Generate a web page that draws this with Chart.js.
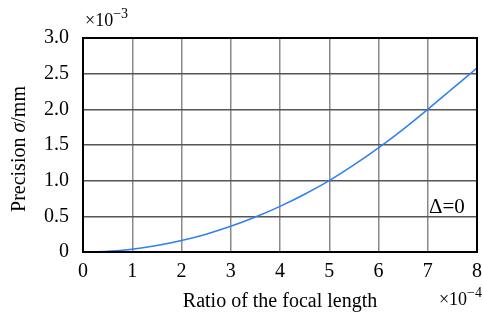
<!DOCTYPE html>
<html>
<head>
<meta charset="utf-8">
<script src="https://cdn.jsdelivr.net/npm/chart.js@4"></script>
<style>
  html, body { margin: 0; padding: 0; background: #fff; }
  #wrap { width: 482px; height: 314px; }
</style>
</head>
<body>
<div id="wrap"><canvas id="chartCanvas"></canvas></div>
<script>
// ratio of the focal length (x10^-4) and precision sigma (x10^-3 mm)
const ratio = [0, 0.5, 1, 1.5, 2, 2.5, 3, 3.5, 4, 4.5, 5, 5.5, 6, 6.5, 7, 7.5, 8];
const precision = [0, 0.01, 0.04, 0.09, 0.16, 0.25, 0.36, 0.49, 0.64, 0.81, 1.0, 1.22, 1.46, 1.72, 2.0, 2.29, 2.58];
const xTicks = [0, 1, 2, 3, 4, 5, 6, 7, 8];
const yTicks = [0, 0.5, 1.0, 1.5, 2.0, 2.5, 3.0];

const serif = "'Liberation Serif', 'DejaVu Serif', serif";

function powerLabel(ctx, x, y, exp, alignRight) {
    ctx.font = `18px ${serif}`;
    const base = '×10';
    const wb = ctx.measureText(base).width;
    ctx.font = `14px ${serif}`;
    const we = ctx.measureText(exp).width;
    const x0 = alignRight ? x - wb - we : x;
    ctx.textAlign = 'left';
    ctx.textBaseline = 'alphabetic';
    ctx.font = `18px ${serif}`;
    ctx.fillText(base, x0, y);
    ctx.font = `14px ${serif}`;
    ctx.fillText(exp, x0 + wb, y - 8);
}

const extras = {
    id: 'extras',
    afterDraw(chart) {
        const { ctx, chartArea: a } = chart;
        ctx.save();
        // frame
        ctx.strokeStyle = '#000';
        ctx.lineWidth = 2;
        ctx.strokeRect(a.left, a.top, a.right - a.left, a.bottom - a.top);

        ctx.fillStyle = '#000';
        // exponents
        powerLabel(ctx, 85, 26, '−3', false);
        powerLabel(ctx, 482, 305, '−4', true);
        // annotation
        ctx.font = `21px ${serif}`;
        ctx.textAlign = 'left';
        ctx.textBaseline = 'alphabetic';
        ctx.fillText('Δ=0', 429, 213);

        // y axis title with italic sigma
        ctx.translate(20, 149);
        ctx.rotate(-Math.PI / 2);
        const p1 = 'Precision ', p2 = 'σ', p3 = '/mm';
        const size = 20;
        ctx.font = `${size}px ${serif}`;
        const w1 = ctx.measureText(p1).width, w3 = ctx.measureText(p3).width;
        ctx.font = `italic ${size}px ${serif}`;
        const w2 = ctx.measureText(p2).width;
        let x = -(w1 + w2 + w3) / 2;
        ctx.textBaseline = 'middle';
        ctx.font = `${size}px ${serif}`;
        ctx.fillText(p1, x, 0); x += w1;
        ctx.font = `italic ${size}px ${serif}`;
        ctx.fillText(p2, x, 0); x += w2;
        ctx.font = `${size}px ${serif}`;
        ctx.fillText(p3, x, 0);
        ctx.restore();
    }
};

new Chart(document.getElementById('chartCanvas'), {
    type: 'line',
    data: {
        datasets: [{
            data: ratio.map((r, i) => ({ x: r, y: precision[i] })),
            borderColor: '#2f7fef',
            borderWidth: 1.5,
            pointRadius: 0,
            tension: 0.3
        }]
    },
    options: {
        responsive: true,
        maintainAspectRatio: false,
        animation: false,
        layout: { padding: { left: 0, right: 5, top: 38, bottom: 0 } },
        plugins: { legend: { display: false }, tooltip: { enabled: false } },
        scales: {
            x: {
                type: 'linear',
                min: 0, max: 8,
                afterBuildTicks: s => { s.ticks = xTicks.map(v => ({ value: v })); },
                afterFit: s => { s.height = 62; s.paddingLeft = 0; s.paddingRight = 0; },
                grid: { color: '#8a8a8a', lineWidth: 1.5, drawTicks: false },
                border: { display: false },
                ticks: { color: '#000', font: { family: serif, size: 20 }, padding: 8 },
                title: {
                    display: true,
                    text: 'Ratio of the focal length',
                    color: '#000',
                    font: { family: serif, size: 20 },
                    padding: { top: 0, bottom: 0 }
                }
            },
            y: {
                min: 0, max: 3,
                afterBuildTicks: s => { s.ticks = yTicks.map(v => ({ value: v })); },
                afterFit: s => { s.width = 83; s.paddingTop = 0; s.paddingBottom = 0; },
                grid: { color: '#555', lineWidth: 1.5, drawTicks: false },
                border: { display: false },
                ticks: {
                    color: '#000',
                    font: { family: serif, size: 20 },
                    padding: 14,
                    callback: v => v === 0 ? '0' : v.toFixed(1)
                }
            }
        }
    },
    plugins: [extras]
});
</script>
</body>
</html>
